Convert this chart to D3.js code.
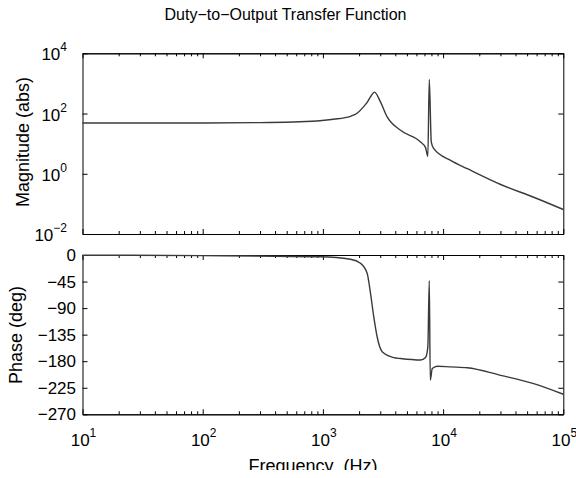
<!DOCTYPE html>
<html>
<head>
<meta charset="utf-8">
<script src="https://cdn.jsdelivr.net/npm/d3@7"></script>
<style>
  body { margin: 0; background: #fff; }
  svg { display: block; font-family: "Liberation Sans", Arial, sans-serif; }
</style>
</head>
<body>
<div id="chart"></div>
<script>
// values
var magFreq = [10, 100, 302, 895, 1223, 1694, 1939, 2176, 2349, 2488, 2687, 3013, 3426, 4424, 6494, 7145, 7466, 7674, 7974, 8375, 11550, 15910, 30130, 56730, 100000];
var magVal  = [48.6, 48.6, 50, 56.7, 64.6, 81, 104.7, 166, 244, 357, 513, 244, 77, 27.8, 11.3, 7.36, 3.78, 1360, 11.3, 6.8, 2.77, 1.47, 0.44, 0.166, 0.065];

var phaseFreq = [10, 100, 952, 1694, 2054, 2333, 2488, 2650, 2829, 3113, 3890, 4424, 6494, 7145, 7466, 7674, 7822, 8128, 8950, 11550, 15910, 30130, 56730, 100000];
var phaseVal  = [-0.3, -1, -3, -7.3, -14, -31, -64.5, -105, -139, -164, -174, -175.5, -178, -173.7, -155.7, -43.6, -212, -192.5, -188.5, -189.6, -191, -204, -218, -236];

var xDecades = [10, 100, 1000, 10000, 100000];
var magTicks = [0.01, 1, 100, 10000];
var phaseTicks = [0, -45, -90, -135, -180, -225, -270];

var W = 576, H = 478;
var left = 82.5, right = 563.3;
var magTop = 53.3, magBot = 234;
var phTop = 255, phBot = 414.3;
var lineColor = "#3a3a3a";

// minor ticks 2..9 in each decade
var xMinor = [];
xDecades.slice(0, -1).forEach(function(d) {
  for (var k = 2; k <= 9; k++) xMinor.push(d * k);
});

var svg = d3.select("#chart").append("svg")
  .attr("width", W).attr("height", H);

var x = d3.scaleLog().domain([10, 100000]).range([left, right]);
var yMag = d3.scaleLog().domain([0.01, 10000]).range([magBot, magTop]);
var yPh = d3.scaleLinear().domain([-270, 0]).range([phBot, phTop]);

function minus(s) { return String(s).replace("-", "\u2212"); }

function frame(yScale, top, bot, yTicks) {
  var g = svg.append("g");
  // minor x ticks
  g.append("g").attr("transform", "translate(0," + bot + ")")
    .call(d3.axisBottom(x).tickValues(xMinor).tickSizeInner(-3).tickSizeOuter(0).tickFormat(""));
  g.append("g").attr("transform", "translate(0," + top + ")")
    .call(d3.axisTop(x).tickValues(xMinor).tickSizeInner(-3).tickSizeOuter(0).tickFormat(""));
  // major x ticks
  g.append("g").attr("transform", "translate(0," + bot + ")")
    .call(d3.axisBottom(x).tickValues(xDecades).tickSizeInner(-5).tickSizeOuter(0).tickFormat(""));
  g.append("g").attr("transform", "translate(0," + top + ")")
    .call(d3.axisTop(x).tickValues(xDecades).tickSizeInner(-5).tickSizeOuter(0).tickFormat(""));
  g.append("g").attr("transform", "translate(" + left + ",0)")
    .call(d3.axisLeft(yScale).tickValues(yTicks).tickSizeInner(-5).tickSizeOuter(0).tickFormat(""));
  g.append("g").attr("transform", "translate(" + right + ",0)")
    .call(d3.axisRight(yScale).tickValues(yTicks).tickSizeInner(-5).tickSizeOuter(0).tickFormat(""));
  g.selectAll(".domain").attr("stroke", "#000").attr("stroke-width", 1);
  g.selectAll(".tick line").attr("stroke", "#000").attr("stroke-width", 1);
  return g;
}

frame(yMag, magTop, magBot, magTicks);
frame(yPh, phTop, phBot, phaseTicks);

// curves
var magLine = d3.line()
  .x(function(d) { return x(d[0]); })
  .y(function(d) { return yMag(d[1]); })
  .curve(d3.curveMonotoneX);
svg.append("path")
  .datum(d3.zip(magFreq, magVal))
  .attr("d", magLine)
  .attr("fill", "none").attr("stroke", lineColor).attr("stroke-width", 1.4);

var phLine = d3.line()
  .x(function(d) { return x(d[0]); })
  .y(function(d) { return yPh(d[1]); })
  .curve(d3.curveMonotoneX);
svg.append("path")
  .datum(d3.zip(phaseFreq, phaseVal))
  .attr("d", phLine)
  .attr("fill", "none").attr("stroke", lineColor).attr("stroke-width", 1.4);

// magnitude tick labels 10^n
magTicks.forEach(function(v) {
  var t = svg.append("text")
    .attr("x", 67).attr("y", yMag(v) + 7)
    .attr("text-anchor", "end")
    .attr("font-size", 17);
  t.append("tspan").text("10");
  t.append("tspan").attr("dy", -9).attr("font-size", 12)
    .text(minus(Math.round(Math.log10(v))));
});

// phase tick labels
svg.selectAll(".phlab").data(phaseTicks).enter().append("text")
  .attr("class", "phlab")
  .attr("x", 76).attr("y", function(d) { return yPh(d) + 6; })
  .attr("text-anchor", "end")
  .attr("font-size", 17)
  .text(function(d) { return minus(d); });

// frequency tick labels
xDecades.forEach(function(v) {
  var t = svg.append("text")
    .attr("x", x(v) + 1).attr("y", 445.7)
    .attr("text-anchor", "middle")
    .attr("font-size", 17);
  t.append("tspan").text("10");
  t.append("tspan").attr("dy", -9).attr("font-size", 12)
    .text(Math.round(Math.log10(v)));
});

// title and labels
svg.append("text")
  .attr("x", 285.5).attr("y", 19.5)
  .attr("text-anchor", "middle").attr("font-size", 16)
  .text("Duty\u2212to\u2212Output Transfer Function");

svg.append("text")
  .attr("transform", "translate(29,142) rotate(-90)")
  .attr("text-anchor", "middle").attr("font-size", 18)
  .text("Magnitude (abs)");

svg.append("text")
  .attr("transform", "translate(22,335) rotate(-90)")
  .attr("text-anchor", "middle").attr("font-size", 18)
  .text("Phase (deg)");

// the x label is cut off at the bottom in the original
svg.append("clipPath").attr("id", "xlabclip")
  .append("rect").attr("x", 0).attr("y", 440).attr("width", W).attr("height", 30);
svg.append("text")
  .attr("clip-path", "url(#xlabclip)")
  .attr("x", 313).attr("y", 472)
  .attr("text-anchor", "middle").attr("font-size", 18)
  .attr("xml:space", "preserve")
  .text("Frequency  (Hz)");
</script>
</body>
</html>
